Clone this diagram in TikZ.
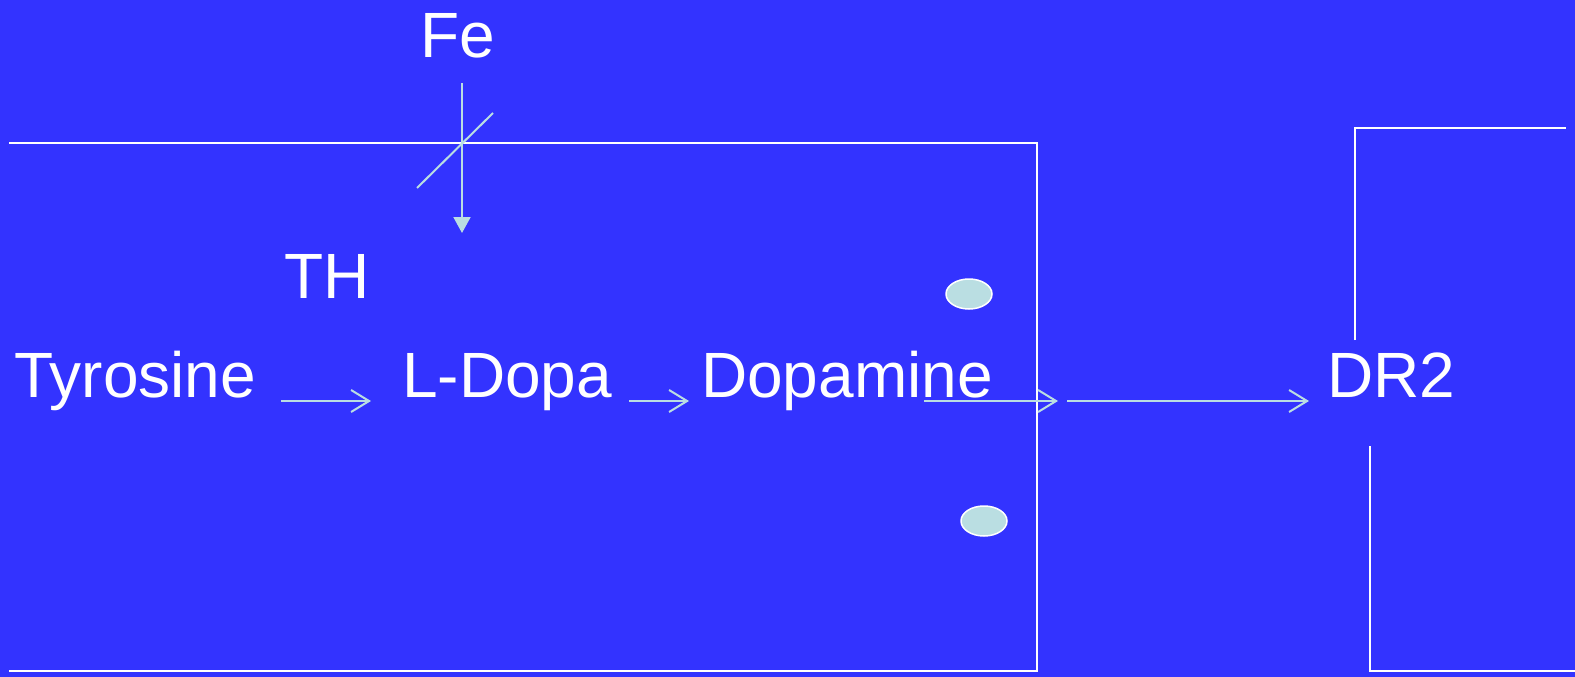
\documentclass[tikz,border=0pt]{standalone}
\usepackage{fontspec}
\setmainfont{Liberation Sans}
\usetikzlibrary{arrows.meta,shapes.geometric}
\definecolor{bgblue}{RGB}{51,51,255}
\definecolor{lcyan}{RGB}{186,222,226}
\begin{document}
\begin{tikzpicture}[x=1pt,y=-1pt,
  lbl/.style={text=white,font=\fontsize{64}{64}\selectfont,inner sep=0pt,anchor=base},
  wline/.style={draw=white,line width=2pt},
  barrow/.style={draw=lcyan,line width=2pt,-{Straight Barb[length=18pt,width=22pt,line width=2pt]}},
  farrow/.style={draw=lcyan,line width=2pt,-{Triangle[length=16pt,width=17pt]}},
  vesicle/.style={ellipse,draw=white,fill=lcyan,line width=1.5pt,minimum width=46pt,minimum height=30pt,inner sep=0pt}
]
\fill[bgblue] (0,0) rectangle (1575,677);
\useasboundingbox (0,0) rectangle (1575,677);
% left cell
\draw[wline] (9,143) -- (1037,143) -- (1037,671) -- (9,671);
% right cell
\draw[wline] (1355,340) -- (1355,128) -- (1566,128);
\draw[wline] (1370,446) -- (1370,671) -- (1575,671);
% labels
\node[lbl] (fe) at (458,58) {Fe};
\node[lbl] (th) at (327,298) {TH};
\node[lbl,anchor=base west] (tyr) at (14,397) {Tyrosine};
\node[lbl,anchor=base west] (ldopa) at (402,397) {L-Dopa};
\node[lbl,anchor=base west] (dopa) at (701,397) {Dopamine};
\node[lbl,anchor=base west] (dr2) at (1327,397) {DR2};
% vesicles
\node[vesicle] (v1) at (969,294) {};
\node[vesicle] (v2) at (984,521) {};
% Fe arrow and cross
\coordinate (feS) at (462,83);
\coordinate (feE) at (462,233);
\draw[farrow] (feS) -- (feE);
\coordinate (xa) at (417,188);
\coordinate (xb) at (493,113);
\draw[draw=lcyan,line width=2pt] (xa) -- (xb);
% pathway arrows
\coordinate (a1s) at (281,401); \coordinate (a1e) at (371,401);
\coordinate (a2s) at (629,401); \coordinate (a2e) at (689,401);
\coordinate (a3s) at (924,401); \coordinate (a3e) at (1058,401);
\coordinate (a4s) at (1067,401); \coordinate (a4e) at (1309,401);
\draw[barrow] (a1s) -- (a1e);
\draw[barrow] (a2s) -- (a2e);
\draw[barrow] (a3s) -- (a3e);
\draw[barrow] (a4s) -- (a4e);
\end{tikzpicture}
\end{document}
